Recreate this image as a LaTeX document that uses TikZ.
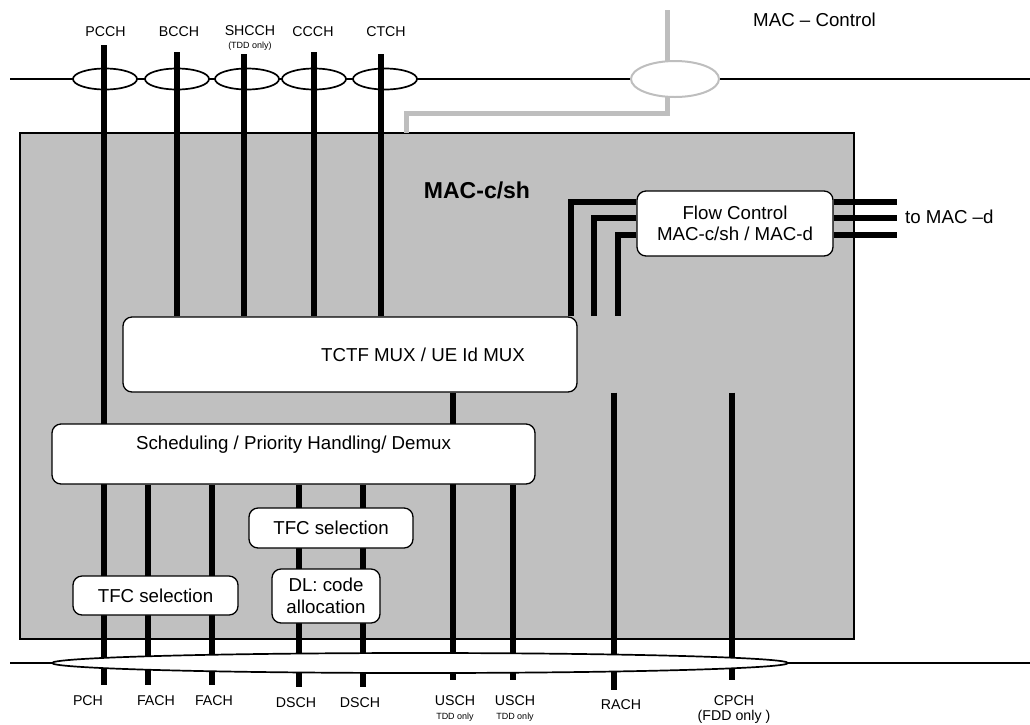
\documentclass[tikz,border=0pt]{standalone}
\usepackage{fontspec}
\setmainfont{Liberation Sans}
\usetikzlibrary{shapes.geometric}
\definecolor{boxgray}{RGB}{192,192,192}
\definecolor{ctlgray}{RGB}{190,190,190}
\pgfdeclarelayer{back}
\pgfdeclarelayer{mid}
\pgfsetlayers{back,mid,main}
\begin{document}
\begin{tikzpicture}[x=1pt,y=-1pt,
  thk/.style={line width=5.2pt},
  gryline/.style={line width=5pt, draw=ctlgray},
  thinline/.style={line width=1.5pt},
  proc/.style={draw, line width=1.3pt, fill=white, rounded corners=9pt, inner sep=0pt, align=center, font=\fontsize{18.7}{21.5}\selectfont},
  chan/.style={ellipse, draw, line width=1.7pt, fill=white, minimum width=64pt, minimum height=21pt, inner sep=0pt},
  lbl/.style={font=\fontsize{14.2}{16}\selectfont, inner sep=0pt},
  tiny/.style={font=\fontsize{9}{10}\selectfont, inner sep=0pt},
  big/.style={font=\fontsize{18.7}{21.5}\selectfont, inner sep=0pt}]
\useasboundingbox (0,0) rectangle (1030,724);

% ---------- back layer ----------
\begin{pgfonlayer}{back}
\node[draw, line width=1.2pt, fill=boxgray, minimum width=834pt, minimum height=506pt, inner sep=0pt] (mac) at (437,386) {};
\coordinate (tl) at (10,79);
\coordinate (tr) at (1030,79);
\draw[thinline] (tl) -- (tr);
\coordinate (ctlT) at (667,10);
\coordinate (ctlB) at (406,133);
\draw[gryline] (ctlT) -- (667,113) -- (406,113) -- (ctlB);
\node[ellipse, draw=ctlgray, line width=2pt, fill=white, minimum width=88pt, minimum height=36pt, inner sep=0pt] (ctlE) at (675,79) {};
\node[chan] (pcchE) at (105,79) {};
\node[chan] (bcchE) at (177,79) {};
\node[chan] (shcchE) at (247,79) {};
\node[chan] (ccchE) at (314,79) {};
\node[chan] (ctchE) at (385,79) {};
\coordinate (bl) at (10,663);
\coordinate (br) at (1030,663);
\draw[thinline] (bl) -- (br);
\end{pgfonlayer}

% ---------- boxes ----------
\node[proc, minimum width=454pt, minimum height=75pt] (tctf) at (350,354.5) {\hspace*{146pt}TCTF MUX / UE Id MUX};
\node[proc, minimum width=483pt, minimum height=60pt, text height=13.5pt, text depth=22pt] (sched) at (293.5,454) {Scheduling / Priority Handling/ Demux};
\node[proc, minimum width=165pt, minimum height=39pt] (tfcA) at (155.5,595.5) {TFC selection};
\node[proc, minimum width=164pt, minimum height=40pt] (tfcB) at (331,528) {TFC selection};
\node[proc, minimum width=108pt, minimum height=54pt] (dl) at (326,596) {DL: code\\allocation};
\node[proc, minimum width=196pt, minimum height=65pt] (flow) at (735,223.5) {Flow Control\\MAC-c/sh / MAC-d};
\node[ellipse, draw, line width=1.7pt, fill=white, minimum width=736pt, minimum height=20pt, inner sep=0pt] (tbus) at (420,663) {};

% ---------- channel end points ----------
\coordinate (pcchT) at (104,45);
\coordinate (bcchT) at (177,52);
\coordinate (shcchT) at (244,54);
\coordinate (ccchT) at (314,52);
\coordinate (ctchT) at (381,54);
\coordinate (pchB) at (104,685);
\coordinate (fachAB) at (148,685);
\coordinate (fachBB) at (212,685);
\coordinate (dschAB) at (299,687);
\coordinate (dschBB) at (363,687);
\coordinate (uschAB) at (453,680);
\coordinate (uschBB) at (513,680);
\coordinate (rachB) at (614,690);
\coordinate (cpchB) at (732,680);
\coordinate (fcA) at (571,202);
\coordinate (fcB) at (594,218);
\coordinate (fcC) at (618,235);
\coordinate (mdA) at (897,202);
\coordinate (mdB) at (897,218);
\coordinate (mdC) at (897,235);

% ---------- thick lines ----------
\begin{pgfonlayer}{mid}
\draw[thk] (pcchT) -- (pchB);
\draw[thk] (bcchT) -- (bcchT |- tctf.north);
\draw[thk] (shcchT) -- (shcchT |- tctf.north);
\draw[thk] (ccchT) -- (ccchT |- tctf.north);
\draw[thk] (ctchT) -- (ctchT |- tctf.north);
\draw[thk] (fachAB |- sched.south) -- (fachAB);
\draw[thk] (fachBB |- sched.south) -- (fachBB);
\draw[thk] (dschAB |- sched.south) -- (dschAB);
\draw[thk] (dschBB |- sched.south) -- (dschBB);
\draw[thk] (uschAB |- tctf.south) -- (uschAB);
\draw[thk] (uschBB |- sched.south) -- (uschBB);
\draw[thk] (rachB |- tctf.south) -- (rachB);
\draw[thk] (cpchB |- tctf.south) -- (cpchB);
\draw[thk] (flow.west |- fcA) -- (fcA) -- (fcA |- tctf.north);
\draw[thk] (flow.west |- fcB) -- (fcB) -- (fcB |- tctf.north);
\draw[thk] (flow.west |- fcC) -- (fcC) -- (fcC |- tctf.north);
\draw[thk] (flow.east |- mdA) -- (mdA);
\draw[thk] (flow.east |- mdB) -- (mdB);
\draw[thk] (flow.east |- mdC) -- (mdC);
\end{pgfonlayer}

% ---------- labels ----------
\node[lbl] (lPCCH) at (105.5,32) {PCCH};
\node[lbl] (lBCCH) at (179,32) {BCCH};
\node[lbl] (lSHCCH) at (250,31) {SHCCH};
\node[tiny] (lSHCCHn) at (250,46) {(TDD only)};
\node[lbl] (lCCCH) at (313,32) {CCCH};
\node[lbl] (lCTCH) at (386,32) {CTCH};
\node[big, anchor=west] (lCtl) at (753,20) {MAC – Control};
\node[big, anchor=west] (lMacd) at (905,217) {to MAC –d};
\node[font=\fontsize{23}{26}\selectfont\bfseries, inner sep=0pt] (lMac) at (477,190) {MAC-c/sh};

\node[lbl] (lPCH) at (88,701) {PCH};
\node[lbl] (lFACHa) at (156,701) {FACH};
\node[lbl] (lFACHb) at (214,701) {FACH};
\node[lbl] (lDSCHa) at (296,703) {DSCH};
\node[lbl] (lDSCHb) at (360,703) {DSCH};
\node[lbl] (lUSCHa) at (455,701) {USCH};
\node[tiny] (lUSCHan) at (455,717) {TDD only};
\node[lbl] (lUSCHb) at (515,701) {USCH};
\node[tiny] (lUSCHbn) at (515,717) {TDD only};
\node[lbl] (lRACH) at (621,705) {RACH};
\node[lbl] (lCPCH) at (734,701) {CPCH};
\node[lbl] (lCPCHn) at (734,717) {(FDD only )};
\end{tikzpicture}
\end{document}
